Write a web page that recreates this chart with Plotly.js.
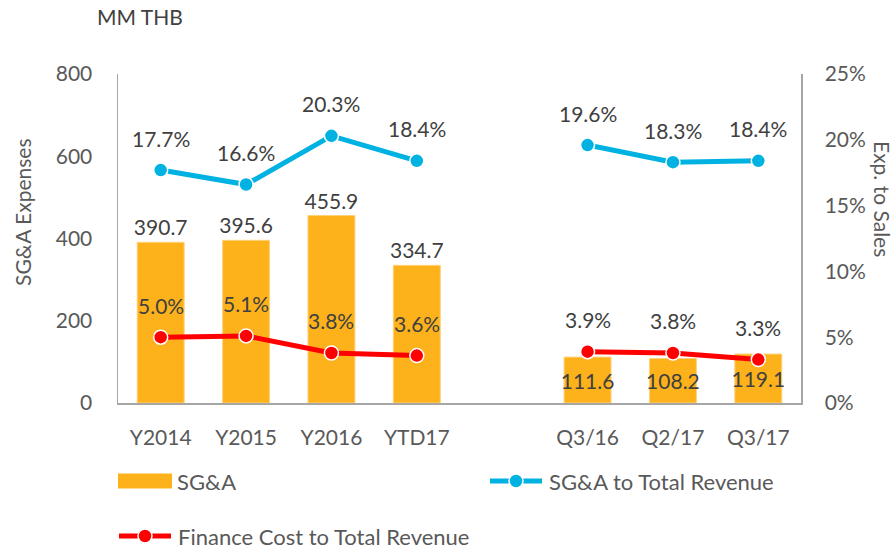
<!DOCTYPE html>
<html>
<head>
<meta charset="utf-8">
<script src="https://cdn.plot.ly/plotly-3.0.1.min.js"></script>
<style>
  html, body { margin: 0; padding: 0; background: #ffffff; }
  #chart { width: 894px; height: 549px; }
</style>
</head>
<body>
<div id="chart"></div>
<script>
// Periods on the category axis; the blank entry separates annual from quarterly figures
const categories = ['Y2014', 'Y2015', 'Y2016', 'YTD17', ' ', 'Q3/16', 'Q2/17', 'Q3/17'];
// SG&A expenses, MM THB
const sgaExpenses = [390.7, 395.6, 455.9, 334.7, null, 111.6, 108.2, 119.1];
// SG&A to total revenue, %
const sgaToRevenue = [17.7, 16.6, 20.3, 18.4, null, 19.6, 18.3, 18.4];
// Finance cost to total revenue, %
const financeToRevenue = [5.0, 5.1, 3.8, 3.6, null, 3.9, 3.8, 3.3];
// Series names
const seriesNames = ['SG&A', 'SG&A to Total Revenue', 'Finance Cost to Total Revenue'];

const W = 894, H = 549;
const M = { l: 118, r: 93, t: 74, b: 146 };
const plotW = W - M.l - M.r, plotH = H - M.t - M.b;
const px = x => (x - M.l) / plotW;
const py = y => (H - M.b - y) / plotH;

const FONT = 'Lato, "Liberation Sans", Arial, sans-serif';
const ORANGE = '#FDB21B';
const BLUE = '#00B2E2';
const RED = '#FF0000';
const TEXT_DARK = '#404040';
const TEXT_MID = '#595959';
const AXIS = '#A6A6A6';
const LABEL_SIZE = 21;
const LEGEND_SIZE = 22;

const fmt1 = v => v.toFixed(1);

const traces = [
  {
    type: 'bar',
    name: seriesNames[0],
    x: categories,
    y: sgaExpenses,
    width: 0.55,
    marker: { color: ORANGE, line: { color: '#FFD27A', width: 1 } },
    text: sgaExpenses.map(v => (v == null ? '' : fmt1(v))),
    textposition: sgaExpenses.map(v => (v != null && v < 200 ? 'inside' : 'outside')),
    insidetextanchor: 'middle',
    textangle: 0,
    constraintext: 'none',
    textfont: { family: FONT, size: LABEL_SIZE, color: TEXT_DARK },
    insidetextfont: { family: FONT, size: LABEL_SIZE, color: TEXT_DARK },
    outsidetextfont: { family: FONT, size: LABEL_SIZE, color: TEXT_DARK },
    cliponaxis: false,
    hoverinfo: 'x+y',
    showlegend: false
  },
  {
    type: 'scatter',
    mode: 'lines+markers',
    name: seriesNames[1],
    x: categories,
    y: sgaToRevenue,
    yaxis: 'y2',
    connectgaps: false,
    line: { color: BLUE, width: 5 },
    marker: { color: BLUE, size: 14, line: { color: '#ffffff', width: 1.5 } },
    cliponaxis: false,
    showlegend: false
  },
  {
    type: 'scatter',
    mode: 'lines+markers',
    name: seriesNames[2],
    x: categories,
    y: financeToRevenue,
    yaxis: 'y2',
    connectgaps: false,
    line: { color: RED, width: 5 },
    marker: { color: RED, size: 14, line: { color: '#ffffff', width: 1.5 } },
    cliponaxis: false,
    showlegend: false
  }
];

// Percent labels above each point of the two ratio series
const annotations = [];
[sgaToRevenue, financeToRevenue].forEach(series => {
  series.forEach((v, i) => {
    if (v == null) return;
    annotations.push({
      x: categories[i], y: v, xref: 'x', yref: 'y2',
      text: fmt1(v) + '%', showarrow: false,
      yshift: 32, xanchor: 'center', yanchor: 'middle',
      font: { family: FONT, size: LABEL_SIZE, color: TEXT_DARK }
    });
  });
});

// Axis titles and unit note
annotations.push(
  { xref: 'paper', yref: 'paper', x: px(95), y: py(17), xanchor: 'left', yanchor: 'middle',
    text: 'MM THB', showarrow: false, font: { family: FONT, size: LABEL_SIZE, color: TEXT_DARK } },
  { xref: 'paper', yref: 'paper', x: px(22), y: py(212), xanchor: 'center', yanchor: 'middle',
    text: 'SG&A Expenses', textangle: -90, showarrow: false, font: { family: FONT, size: LABEL_SIZE, color: TEXT_MID } },
  { xref: 'paper', yref: 'paper', x: px(883), y: py(199), xanchor: 'center', yanchor: 'middle',
    text: 'Exp. to Sales', textangle: 90, showarrow: false, font: { family: FONT, size: LABEL_SIZE, color: TEXT_MID } }
);

// Legend: swatches drawn as shapes, names as annotations
const shapes = [];
function legendBar(x0, x1, yc, color, label) {
  shapes.push({ type: 'rect', xref: 'paper', yref: 'paper',
    x0: px(x0), x1: px(x1), y0: py(yc + 7.5), y1: py(yc - 7.5),
    fillcolor: color, line: { width: 0 } });
  annotations.push({ xref: 'paper', yref: 'paper', x: px(x1 + 3), y: py(yc),
    xanchor: 'left', yanchor: 'middle', text: label, showarrow: false,
    font: { family: FONT, size: LEGEND_SIZE, color: TEXT_MID } });
}
function legendLine(x0, x1, yc, color, label) {
  shapes.push({ type: 'line', xref: 'paper', yref: 'paper',
    x0: px(x0 + 2), x1: px(x1 - 2), y0: py(yc), y1: py(yc),
    line: { color: color, width: 5 } });
  const cx = (x0 + x1) / 2, r = 7;
  shapes.push({ type: 'circle', xref: 'paper', yref: 'paper',
    x0: px(cx - r), x1: px(cx + r), y0: py(yc + r), y1: py(yc - r),
    fillcolor: color, line: { color: '#ffffff', width: 1.5 } });
  annotations.push({ xref: 'paper', yref: 'paper', x: px(x1 + 3), y: py(yc),
    xanchor: 'left', yanchor: 'middle', text: label, showarrow: false,
    font: { family: FONT, size: LEGEND_SIZE, color: TEXT_MID } });
}
legendBar(118, 172, 481, ORANGE, seriesNames[0]);
legendLine(488, 544, 481, BLUE, seriesNames[1]);
legendLine(117, 173, 536, RED, seriesNames[2]);

const axisCommon = {
  showline: true, linecolor: AXIS, linewidth: 1.5,
  showgrid: false, zeroline: false, ticks: '',
  tickfont: { family: FONT, size: LABEL_SIZE, color: TEXT_MID },
  fixedrange: true
};

const layout = {
  width: W, height: H,
  margin: M,
  paper_bgcolor: '#ffffff', plot_bgcolor: '#ffffff',
  font: { family: FONT, size: LABEL_SIZE, color: TEXT_MID },
  showlegend: false,
  xaxis: Object.assign({}, axisCommon, {
    type: 'category', range: [-0.5, 7.5], ticklabelstandoff: 15
  }),
  yaxis: Object.assign({}, axisCommon, {
    range: [0, 800], dtick: 200, tick0: 0, ticklabelstandoff: 20
  }),
  yaxis2: Object.assign({}, axisCommon, {
    overlaying: 'y', side: 'right', range: [0, 25], dtick: 5, tick0: 0,
    ticksuffix: '%', ticklabelstandoff: 18
  }),
  annotations: annotations,
  shapes: shapes
};

Plotly.newPlot('chart', traces, layout, { staticPlot: true, displayModeBar: false });
</script>
</body>
</html>
